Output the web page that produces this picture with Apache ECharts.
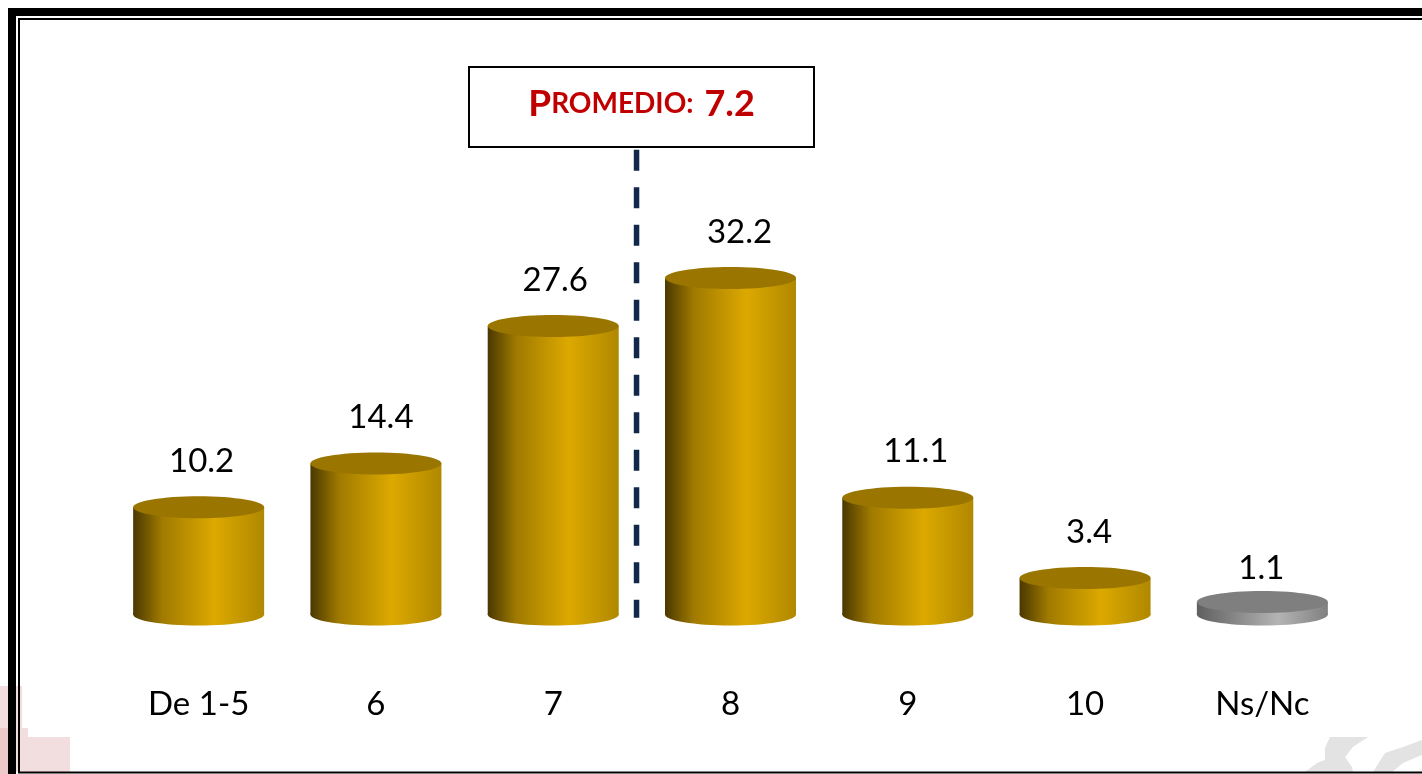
<!DOCTYPE html>
<html>
<head>
<meta charset="utf-8">
<title>Promedio</title>
<style>
  html, body { margin: 0; padding: 0; background: #fff; }
  #chart { width: 1422px; height: 774px; }
</style>
<script src="https://cdn.jsdelivr.net/npm/echarts@6/dist/echarts.min.js"></script>
</head>
<body>
<div id="chart"></div>
<script>
// data
const categories = ['De 1-5', '6', '7', '8', '9', '10', 'Ns/Nc'];
const values = [10.2, 14.4, 27.6, 32.2, 11.1, 3.4, 1.1];
const averageLabel = '7.2';
const averageLinePosition = 2.47; // on the category index scale, as drawn in the picture
const averageLineValues = [44.5, -0.4];

// label nudges, the original labels do not sit dead centre on the bars
const labelNudgeX = [3, 5, 2, 9, 8, 4, -1];
const labelNudgeY = [0, 0, 0, 0, 0, 0, 12];

const gold = [[0, '#4a3800'], [0.22, '#a07a00'], [0.62, '#dca900'], [1, '#b08800']];
const grey = [[0, '#5f5f5f'], [0.62, '#b4b4b4'], [1, '#808080']];
const barWidth = 131;
const capRadiusY = 11;
const fontName = 'Lato, "Open Sans", sans-serif';

const sideFill = (stops) => new echarts.graphic.LinearGradient(0, 0, 1, 0,
  stops.map(([offset, color]) => ({ offset, color })));

const renderCylinder = (params, api) => {
  const idx = api.value(0);
  const top = api.coord([idx, api.value(1)]);
  const base = api.coord([idx, 0]);
  const left = top[0] - barWidth / 2;
  const isGrey = categories[idx] === 'Ns/Nc';
  const fill = sideFill(isGrey ? grey : gold);
  return {
    type: 'group',
    children: [
      { type: 'ellipse', shape: { cx: top[0], cy: base[1] + 1, rx: barWidth / 2, ry: capRadiusY }, style: { fill } },
      { type: 'rect', shape: { x: left, y: top[1], width: barWidth, height: base[1] + 1 - top[1] }, style: { fill } },
      { type: 'ellipse', shape: { cx: top[0], cy: top[1], rx: barWidth / 2, ry: capRadiusY }, style: { fill: isGrey ? '#7f7f7f' : '#9a7600' } },
      {
        type: 'text',
        style: {
          text: String(api.value(1)),
          x: top[0] + labelNudgeX[idx],
          y: top[1] - 46 + labelNudgeY[idx],
          align: 'center',
          verticalAlign: 'middle',
          font: '33px ' + fontName,
          fill: '#000'
        }
      }
    ]
  };
};

const chart = echarts.init(document.getElementById('chart'));
chart.setOption({
  animation: false,
  backgroundColor: '#fff',
  grid: { left: 110, right: 71, top: 92.5, bottom: 160.5 },
  xAxis: [
    {
      type: 'category',
      data: categories,
      axisLine: { show: false },
      axisTick: { show: false },
      axisLabel: { color: '#000', fontFamily: fontName, fontSize: 33, margin: 74, interval: 0 }
    },
    { type: 'value', min: -0.5, max: 6.5, show: false }
  ],
  yAxis: { type: 'value', min: 0, max: 50, show: false },
  series: [
    {
      type: 'custom',
      renderItem: renderCylinder,
      clip: false,
      data: values.map((v, i) => [i, v]),
      encode: { x: 0, y: 1 }
    },
    {
      type: 'line',
      xAxisIndex: 1,
      symbol: 'none',
      clip: false,
      lineStyle: { color: '#10294a', width: 5.5, type: [21, 16.5] },
      data: averageLineValues.map((v) => [averageLinePosition, v])
    }
  ],
  graphic: [
    // faded logo remains behind the slide
    { type: 'rect', z: 0, shape: { x: 0, y: 686, width: 22, height: 86 }, style: { fill: '#f2dede' } },
    { type: 'rect', z: 0, shape: { x: 0, y: 728, width: 28, height: 44 }, style: { fill: '#f2dede' } },
    { type: 'rect', z: 0, shape: { x: 0, y: 728, width: 16, height: 46 }, style: { fill: '#eccaca' } },
    { type: 'rect', z: 0, shape: { x: 22, y: 737, width: 48, height: 35 }, style: { fill: '#f2dede' } },
    { type: 'polygon', z: 0, shape: { points: [[1330, 737], [1368, 737], [1353, 747], [1345, 757], [1352, 767], [1353, 772], [1305, 772], [1317, 763], [1325, 760], [1325, 748]] }, style: { fill: '#e3e3e3' } },
    { type: 'polygon', z: 0, shape: { points: [[1422, 740], [1422, 755], [1403, 763], [1392, 772], [1373, 772], [1385, 753], [1403, 747]] }, style: { fill: '#e3e3e3' } },
    // slide frame
    { type: 'rect', z: 1, shape: { x: 12, y: 12, width: 1430, height: 800 }, style: { fill: 'none', stroke: '#000', lineWidth: 8 } },
    { type: 'rect', z: 1, shape: { x: 19, y: 19, width: 1420, height: 753.5 }, style: { fill: 'none', stroke: '#000', lineWidth: 2 } },
    // average box
    { type: 'rect', z: 5, shape: { x: 469, y: 67, width: 345, height: 80 }, style: { fill: '#fff', stroke: '#000', lineWidth: 2 } },
    {
      type: 'text',
      z: 6,
      style: {
        x: 641.5,
        y: 104,
        align: 'center',
        verticalAlign: 'middle',
        text: '{big|P}{small|ROMEDIO:}{gap| }{num|' + averageLabel + '}',
        rich: {
          big: { font: 'bold 37px ' + fontName, fill: '#c00000' },
          small: { font: 'bold 28px ' + fontName, fill: '#c00000' },
          num: { font: 'bold 36px ' + fontName, fill: '#c00000' },
          gap: { width: 11, font: 'bold 28px ' + fontName }
        }
      }
    }
  ]
});
</script>
</body>
</html>
